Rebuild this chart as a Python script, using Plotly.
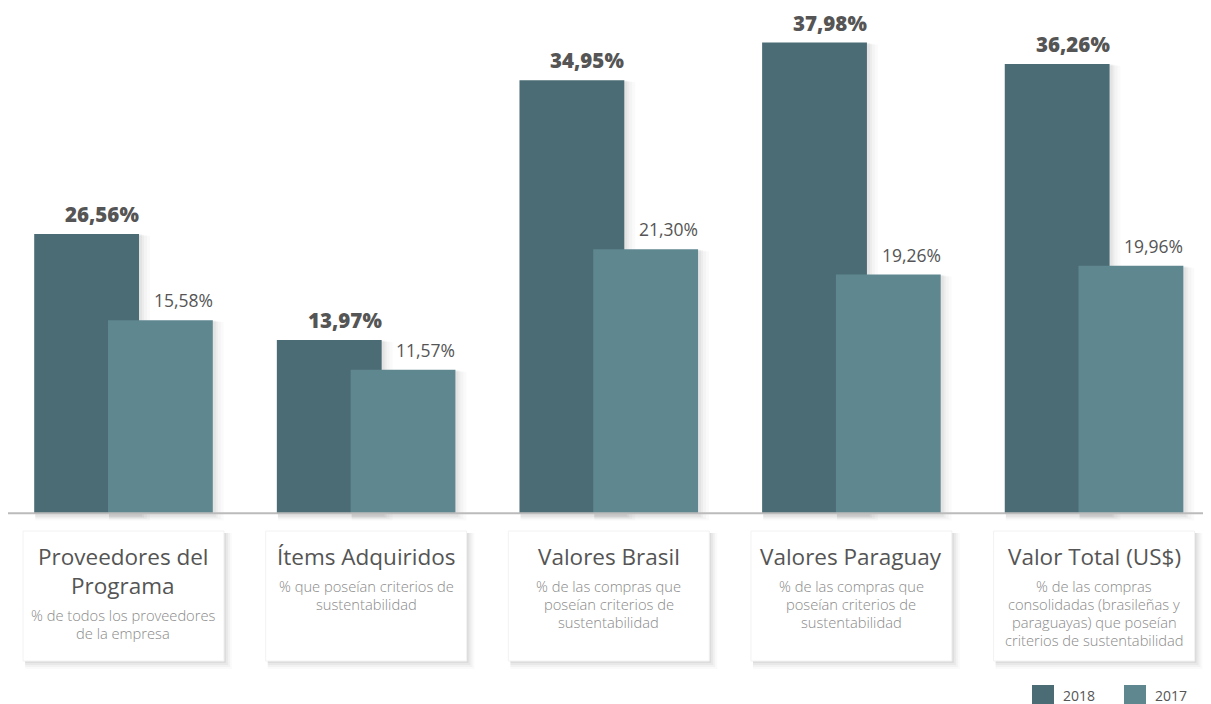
import plotly.graph_objects as go

titles = [["Proveedores del", "Programa"], ["Ítems Adquiridos"], ["Valores Brasil"],
          ["Valores Paraguay"], ["Valor Total (US$)"]]
subtitles = [
    ["% de todos los proveedores", "de la empresa"],
    ["% que poseían criterios de", "sustentabilidad"],
    ["% de las compras que", "poseían criterios de", "sustentabilidad"],
    ["% de las compras que", "poseían criterios de", "sustentabilidad"],
    ["% de las compras", "consolidadas (brasileñas y", "paraguayas) que poseían",
     "criterios de sustentabilidad"],
]
# bar heights as drawn in the picture
values_2018 = [22.54, 13.97, 34.95, 37.98, 36.26]
values_2017 = [15.58, 11.57, 21.30, 19.26, 19.96]
# printed labels
labels_2018 = ["26,56%", "13,97%", "34,95%", "37,98%", "36,26%"]
labels_2017 = ["15,58%", "11,57%", "21,30%", "19,26%", "19,96%"]
years = ["2018", "2017"]

DARK = "#4b6c75"
LIGHT = "#5f8790"
TEXT = "#555555"
SUB = "#8a8a8a"

# the page body adds an 8px margin, so the figure is 8px smaller each way
OFS = 8
W, H = 1211 - OFS, 704 - OFS
PLOT_H = 525
X0, X1 = -0.476, 4.482
BAR_W = 0.432
OFF_DARK = -0.368
OFF_LIGHT = -0.064
PX = (X1 - X0) / W  # category units per pixel
UNIT = 12.39        # pixels per percent

xs = list(range(len(titles)))


def py(p):
    # window pixel row -> paper y
    return (PLOT_H - (p - OFS)) / PLOT_H


def ppx(p):
    # window pixel column -> paper x
    return (p - OFS) / W


def cx(c):
    # category position -> paper x
    return (c - X0) / (X1 - X0)


fig = go.Figure()


def add_shadow(vals, off):
    for k, a in [(10, 0.018), (7, 0.022), (4, 0.03), (2, 0.035)]:
        fig.add_trace(go.Bar(
            x=xs, y=[v + 0.2 + k * 0.3 / UNIT for v in vals], base=-0.2 - k * 0.04,
            offset=off + 1 * PX, width=BAR_W + k * PX,
            marker=dict(color=f"rgba(0,0,0,{a})", line_width=0),
            hoverinfo="skip", showlegend=False,
        ))


add_shadow(values_2018, OFF_DARK)
fig.add_trace(go.Bar(x=xs, y=values_2018, name=years[0], offset=OFF_DARK, width=BAR_W,
                     marker=dict(color=DARK, line_width=0), showlegend=False))
add_shadow(values_2017, OFF_LIGHT)
fig.add_trace(go.Bar(x=xs, y=values_2017, name=years[1], offset=OFF_LIGHT, width=BAR_W,
                     marker=dict(color=LIGHT, line_width=0), showlegend=False))

annotations = []
shapes = []

for i in xs:
    # value labels, right-aligned to the bar edge
    annotations.append(dict(x=i + OFF_DARK + BAR_W + 2 * PX, y=values_2018[i], xref="x", yref="y",
                            text=labels_2018[i], showarrow=False, yanchor="middle",
                            xanchor="right", yshift=20,
                            font=dict(family="Open Sans", size=20.5, color=TEXT, weight=800)))
    annotations.append(dict(x=i + OFF_LIGHT + BAR_W + 2 * PX, y=values_2017[i], xref="x", yref="y",
                            text=labels_2017[i], showarrow=False, yanchor="middle",
                            xanchor="right", yshift=20,
                            font=dict(family="Open Sans", size=17.5, color=TEXT)))

    # card with a soft shadow
    left, right = cx(i - 0.414), cx(i + 0.414)
    for k, a in [(8, 0.02), (6, 0.03), (4, 0.04), (2, 0.05)]:
        shapes.append(dict(type="rect", xref="paper", yref="paper",
                           x0=left + 2 / W, x1=right + k / W, y0=py(661 + k), y1=py(533),
                           fillcolor=f"rgba(0,0,0,{a})", line_width=0, layer="above"))
    shapes.append(dict(type="rect", xref="paper", yref="paper", x0=left, x1=right,
                       y0=py(661), y1=py(531), fillcolor="white",
                       line=dict(color="#f2f2f2", width=1), layer="above"))

    for j, line in enumerate(titles[i]):
        annotations.append(dict(x=cx(i), y=py(556 + 29 * j), xref="paper", yref="paper",
                                text=line, showarrow=False, yanchor="middle", xanchor="center",
                                font=dict(family="Open Sans", size=22.5, color=TEXT)))
    start = 586 + 29 * (len(titles[i]) - 1)
    for j, line in enumerate(subtitles[i]):
        annotations.append(dict(x=cx(i), y=py(start + 18 * j), xref="paper", yref="paper",
                                text=line, showarrow=False, yanchor="middle", xanchor="center",
                                font=dict(family="Open Sans", size=14.7, color=SUB, weight=300)))

# axis baseline
shapes.append(dict(type="line", xref="paper", yref="y", x0=0, x1=1, y0=0, y1=0,
                   line=dict(color="#bbbbbb", width=2), layer="above"))

# legend
for (lx, col, yr) in [(1032, DARK, years[0]), (1124, LIGHT, years[1])]:
    shapes.append(dict(type="rect", xref="paper", yref="paper", x0=ppx(lx), x1=ppx(lx + 22),
                       y0=py(704), y1=py(685), fillcolor=col, line_width=0))
    annotations.append(dict(x=ppx(lx + 29), y=py(696), xref="paper", yref="paper", text=yr,
                            showarrow=False, xanchor="left", yanchor="middle",
                            font=dict(family="Open Sans", size=14, color=TEXT)))

fig.update_layout(
    width=W, height=H,
    margin=dict(l=0, r=0, t=0, b=H - PLOT_H),
    barmode="overlay",
    plot_bgcolor="white", paper_bgcolor="white",
    xaxis=dict(range=[X0, X1], visible=False, fixedrange=True),
    yaxis=dict(range=[-1.6, (PLOT_H - 1.6 * UNIT) / UNIT], visible=False, fixedrange=True),
    shapes=shapes, annotations=annotations,
    showlegend=False,
)

fig.write_html("out.html")
